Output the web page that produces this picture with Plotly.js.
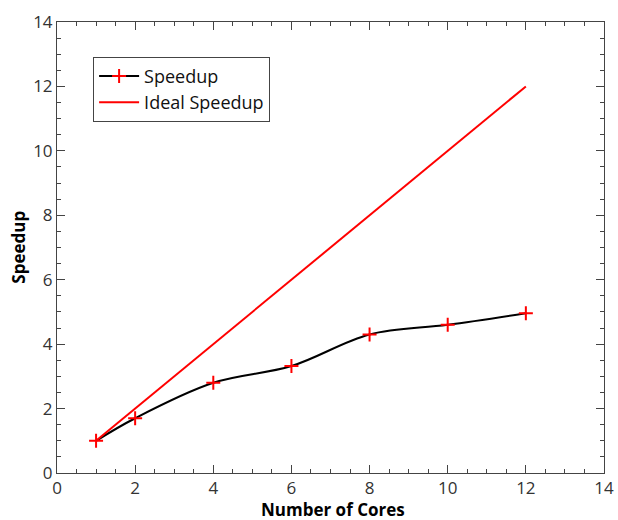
<!DOCTYPE html>
<html>
<head>
<meta charset="utf-8">
<script src="https://cdn.plot.ly/plotly-3.0.1.min.js"></script>
<style>body{margin:0;padding:0;background:#fff;}#chart{width:618px;height:520px;}</style>
</head>
<body>
<div id="chart"></div>
<script>
const cores = [1, 2, 4, 6, 8, 10, 12];
const speedup = [1.0, 1.7, 2.8, 3.32, 4.3, 4.6, 4.96];
const idealCores = [1, 12];
const idealSpeedup = [1, 12];
const xTitle = 'Number of Cores';
const yTitle = 'Speedup';

const FONT = 'Open Sans, DejaVu Sans, sans-serif';

const traces = [
  {
    x: cores, y: speedup, name: 'Speedup', type: 'scatter', mode: 'lines+markers',
    line: {color: '#000', width: 2, shape: 'spline', smoothing: 1},
    marker: {symbol: 'cross-thin-open', size: 10, color: '#ff0000', line: {color: '#ff0000', width: 2}}
  },
  {
    x: idealCores, y: idealSpeedup, name: 'Ideal Speedup', type: 'scatter', mode: 'lines',
    line: {color: '#ff0000', width: 2}
  }
];

const axisCommon = {
  showgrid: false, zeroline: false, showline: true, linecolor: '#444', linewidth: 1,
  mirror: 'ticks', ticks: 'inside', ticklen: 8, tickcolor: '#444', tickwidth: 1,
  tickfont: {family: FONT, size: 17, color: '#333'},
  minor: {ticks: 'inside', ticklen: 4, dtick: 0.5, tickcolor: '#444', tickwidth: 1}
};

const layout = {
  width: 618, height: 520,
  margin: {l: 57, r: 14, t: 22, b: 47},
  paper_bgcolor: '#fff', plot_bgcolor: '#fff',
  showlegend: true,
  legend: {
    x: 0.066, y: 0.923, xanchor: 'left', yanchor: 'top',
    bordercolor: '#444', borderwidth: 1, bgcolor: '#fff',
    font: {family: FONT, size: 18, color: '#111'},
    itemwidth: 40, tracegroupgap: 0
  },
  xaxis: Object.assign({}, axisCommon, {range: [0, 14], dtick: 2, tick0: 0}),
  yaxis: Object.assign({}, axisCommon, {range: [0, 14], dtick: 2, tick0: 0}),
  annotations: [
    {text: '<b>' + xTitle + '</b>', xref: 'paper', yref: 'paper', x: 0.505, y: -0.08,
     xanchor: 'center', yanchor: 'middle', showarrow: false, borderpad: 0,
     font: {family: FONT, size: 17, color: '#000'}},
    {text: '<b>' + yTitle + '</b>', xref: 'paper', yref: 'paper', x: -0.071, y: 0.5,
     xanchor: 'center', yanchor: 'middle', showarrow: false, textangle: -90, borderpad: 0,
     font: {family: FONT, size: 17, color: '#000'}}
  ]
};

Plotly.newPlot('chart', traces, layout, {displayModeBar: false, staticPlot: true});
</script>
</body>
</html>
